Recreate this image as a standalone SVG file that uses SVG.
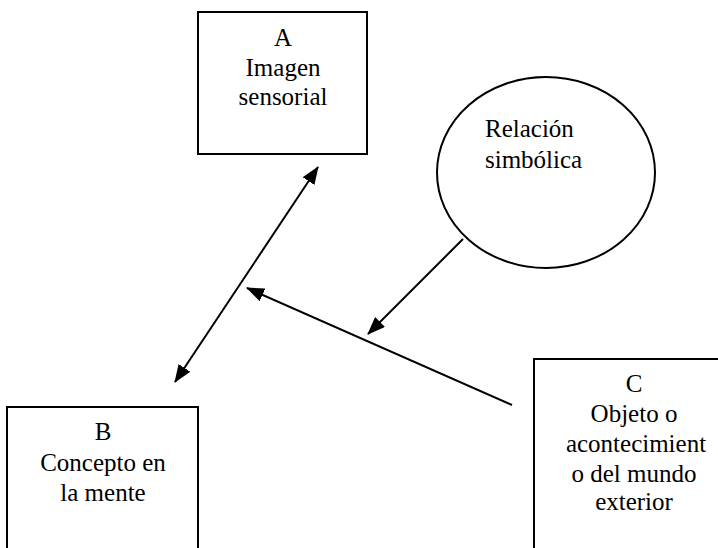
<svg xmlns="http://www.w3.org/2000/svg" width="718" height="548" viewBox="0 0 718 548">
<defs>
<style>
.box{fill:#fff;stroke:#000;stroke-width:2}
.t{font-family:'Liberation Serif','DejaVu Serif','Times New Roman',serif;font-size:25px;fill:#000}
.c{text-anchor:middle}
.ln{stroke:#000;stroke-width:2;fill:none}
</style>
<marker id="ah" markerUnits="userSpaceOnUse" markerWidth="18" markerHeight="14" viewBox="0 0 18 14" refX="17" refY="7" orient="auto-start-reverse">
<path d="M0,0 L18,7 L0,14 z" fill="#000"/>
</marker>
</defs>
<rect width="718" height="548" fill="#fff"/>
<g id="nodeA">
<rect class="box" x="198" y="12" width="169" height="142"/>
<text class="t c" font-family="Liberation Serif, serif" x="283" y="46">A</text>
<text class="t c" font-family="Liberation Serif, serif" x="283" y="76">Imagen</text>
<text class="t c" font-family="Liberation Serif, serif" x="283" y="105">sensorial</text>
</g>
<g id="nodeRel">
<ellipse class="box" cx="546" cy="172.5" rx="109" ry="95.5"/>
<text class="t" font-family="Liberation Serif, serif" x="485" y="137">Relación</text>
<text class="t" font-family="Liberation Serif, serif" x="485" y="168">simbólica</text>
</g>
<g id="nodeB">
<rect class="box" x="7" y="407" width="191" height="160"/>
<text class="t c" font-family="Liberation Serif, serif" x="103" y="440">B</text>
<text class="t c" font-family="Liberation Serif, serif" x="103" y="471">Concepto en</text>
<text class="t c" font-family="Liberation Serif, serif" x="103" y="501">la mente</text>
</g>
<g id="nodeC">
<rect class="box" x="534" y="359" width="200" height="210"/>
<text class="t c" font-family="Liberation Serif, serif" x="634" y="392">C</text>
<text class="t c" font-family="Liberation Serif, serif" x="634" y="422">Objeto o</text>
<text class="t c" font-family="Liberation Serif, serif" x="636" y="452">acontecimient</text>
<text class="t c" font-family="Liberation Serif, serif" x="634" y="482">o del mundo</text>
<text class="t c" font-family="Liberation Serif, serif" x="634" y="510">exterior</text>
</g>
<g id="connectors">
<line class="ln" x1="175" y1="382" x2="318" y2="167" marker-start="url(#ah)" marker-end="url(#ah)"/>
<line class="ln" x1="512" y1="405" x2="247" y2="288" marker-end="url(#ah)"/>
<line class="ln" x1="463" y1="239" x2="368" y2="334" marker-end="url(#ah)"/>
</g>
</svg>
